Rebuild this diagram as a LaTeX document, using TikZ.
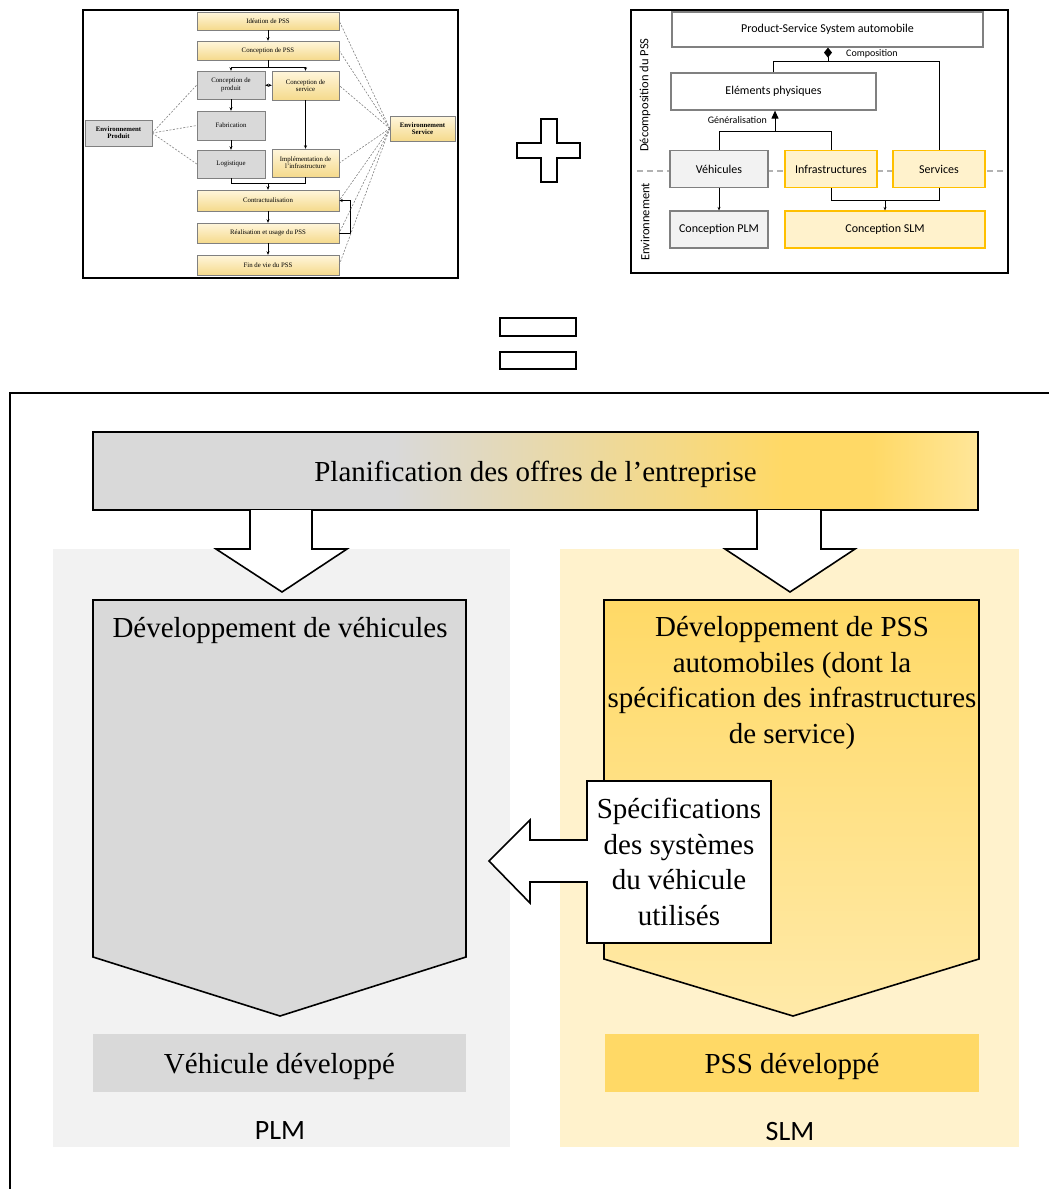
\documentclass[tikz,border=0pt]{standalone}
\usepackage{fontspec}
\setmainfont{Liberation Serif}
\newfontfamily\calibri{Carlito}
\usetikzlibrary{arrows.meta}

\definecolor{pssgrey}{HTML}{D9D9D9}
\definecolor{palegrey}{HTML}{F2F2F2}
\definecolor{pssyellow}{HTML}{FFD966}
\definecolor{paleyellow}{HTML}{FFF2CC}
\definecolor{lightyellow}{HTML}{FFE699}
\definecolor{gold}{HTML}{FFC000}
\definecolor{minitop}{HTML}{FFF6DC}
\definecolor{minibot}{HTML}{F5DA8C}
\pgfdeclarehorizontalshading{offreshade}{100bp}{color(0bp)=(pssgrey); color(42bp)=(pssgrey); color(64bp)=(pssyellow); color(69bp)=(pssyellow); color(75bp)=(lightyellow); color(100bp)=(lightyellow)}

\begin{document}
\begin{tikzpicture}[x=1pt, y=-1pt, >={Stealth[length=3.5pt,width=3pt]},
    mini/.style={draw=gray, inner sep=1pt, align=center, font=\fontsize{6.8}{7.3}\selectfont},
    gmini/.style={mini, fill=pssgrey},
    ymini/.style={mini, top color=minitop, bottom color=minibot},
    envmini/.style={font=\fontsize{6.8}{7.3}\selectfont\bfseries},
    link/.style={->, line width=0.7},
    envlink/.style={gray, line width=0.6, dash pattern=on 2pt off 1.5pt},
    cbox/.style={draw=gray, line width=1.2, minimum height=37, font=\calibri\fontsize{12}{14}\selectfont},
    clabel/.style={font=\calibri\fontsize{10}{12}\selectfont, inner sep=1pt},
    big/.style={font=\fontsize{29}{35.5}\selectfont, align=center},
    lowtext/.style={text height=27pt, text depth=6pt},
    blockarrow/.style={draw, fill=white, line width=1.6}]
  \useasboundingbox (0,0) rectangle (1049,1189);

  % first picture: PSS life cycle
  \draw[line width=2.5] (83,10) rectangle (458,278);
  \node[ymini, minimum width=142, minimum height=18] (idea) at (268,21) {Idéation de PSS};
  \node[ymini, minimum width=142, minimum height=19] (cpss) at (268,50.5) {Conception de PSS};
  \node[gmini, minimum width=68, minimum height=28] (cprod) at (231,85) {Conception de\\produit};
  \node[ymini, minimum width=67, minimum height=29] (cserv) at (305.5,85.5) {Conception de\\service};
  \node[gmini, minimum width=68, minimum height=29] (fab) at (231,125.5) {Fabrication};
  \node[gmini, minimum width=68, minimum height=28] (logi) at (231,164) {Logistique};
  \node[ymini, minimum width=67, minimum height=28] (impl) at (305.5,163) {Implémentation de\\l’infrastructure};
  \node[ymini, minimum width=142, minimum height=21] (contr) at (268,200.5) {Contractualisation};
  \node[ymini, minimum width=142, minimum height=20] (real) at (268,233) {Réalisation et usage du PSS};
  \node[ymini, minimum width=142, minimum height=20] (fin) at (268,265) {Fin de vie du PSS};
  \node[gmini, envmini, minimum width=67, minimum height=26] (envp) at (118.5,133) {Environnement\\Produit};
  \node[ymini, envmini, minimum width=65, minimum height=25] (envs) at (422.5,128.5) {Environnement\\Service};

  \draw[link] (idea) -- (cpss);
  \draw[link] (cpss.south) -- ++(0,7) -| (cprod.north);
  \draw[link] (cpss.south) -- ++(0,7) -| (cserv.north);
  \draw[link, <->] (cprod) -- (cserv);
  \draw[link] (cprod) -- (fab);
  \draw[link] (fab) -- (logi);
  \draw[link] (cserv) -- (impl);
  \coordinate (merge) at (268,183);
  \draw[link] (logi.south) |- (merge) -- (contr.north);
  \draw[line width=0.7] (impl.south) |- (merge);
  \draw[link] (contr) -- (real);
  \draw[link] (real) -- (fin);
  \draw[link] (real.east) -- ++(11,0) |- (contr.east);
  \foreach \n in {cprod,fab,logi}
    \draw[envlink] (envp.east) -- (\n.west);
  \foreach \n in {idea,cpss,cserv,impl,contr,real,fin}
    \draw[envlink] (envs.west) -- (\n.east);

  % plus
  \draw[line width=2.5] (541,119) -- (557,119) -- (557,143) -- (580,143) -- (580,158) -- (557,158)
    -- (557,182) -- (541,182) -- (541,158) -- (517,158) -- (517,143) -- (541,143) -- cycle;

  % second picture: PSS decomposition
  \draw[line width=2.5] (631,10) rectangle (1008,273);
  \draw[gray!60, line width=1.2, dash pattern=on 6pt off 4pt] (637,171) -- (1005,171);
  \node[cbox, minimum width=311, minimum height=35] (psa) at (827.5,29.5) {Product-Service System automobile};
  \node[cbox, minimum width=205] (elem) at (773.5,91.5) {Eléments physiques};
  \node[cbox, fill=palegrey, minimum width=98] (veh) at (719,169) {Véhicules};
  \node[cbox, draw=gold, fill=paleyellow, minimum width=92] (infra) at (831,169) {Infrastructures};
  \node[cbox, draw=gold, fill=paleyellow, minimum width=92] (serv) at (939,169) {Services};
  \node[cbox, fill=palegrey, minimum width=98] (cplm) at (719,229.5) {Conception PLM};
  \node[cbox, draw=gold, fill=paleyellow, minimum width=200] (cslm) at (885,229.5) {Conception SLM};
  \node[rotate=90, font=\calibri\fontsize{12.5}{14}\selectfont] (decomp) at (645,95) {Décomposition du PSS};
  \node[rotate=90, font=\calibri\fontsize{12.5}{14}\selectfont] (envir) at (645,222) {Environnement};

  \coordinate (comp) at (828,61);
  \draw[line width=1] (elem.north) |- (serv.north |- comp) -- (serv.north);
  \draw[line width=1, {Diamond[length=10pt,width=8pt]}-] (psa.south -| comp) -- (comp);
  \node[clabel, anchor=west] (complab) at (845,54) {Composition};
  \coordinate (gen) at (775,131);
  \draw[line width=1] (veh.north) |- (infra.north |- gen) -- (infra.north);
  \draw[line width=1, -{Triangle[length=8pt,width=7pt]}] (gen) -- (elem.south -| gen);
  \node[clabel, anchor=east] (genlab) at (768,120) {Généralisation};
  \draw[line width=1, ->] (veh) -- (cplm);
  \coordinate (slmjoin) at (885,200);
  \draw[line width=1] (infra.south) |- (serv.south |- slmjoin) -- (serv.south);
  \draw[line width=1, ->] (slmjoin) -- (cslm.north);

  % equals
  \draw[line width=2.5] (500,318) rectangle (576,336);
  \draw[line width=2.5] (500,352) rectangle (576,369);

  % result: PLM and SLM
  \draw[line width=2] (1049,393) -- (10,393) -- (10,1189);
  \fill[palegrey] (53,549) rectangle (510,1147);
  \fill[paleyellow] (560,549) rectangle (1019,1147);
  \node[draw, line width=1.6, shading=offreshade, minimum width=885, minimum height=78, big, lowtext] (plan)
    at (535.5,471) {Planification des offres de l’entreprise};
  \filldraw[blockarrow] (250,510) -- (250,549) -- (216,549) -- (282,592) -- (347,549) -- (312,549) -- (312,510);
  \filldraw[blockarrow] (757,510) -- (757,549) -- (725,549) -- (790,592) -- (855,549) -- (821,549) -- (821,510);

  \filldraw[line width=1.6, fill=pssgrey] (93,600) -- (466,600) -- (466,957) -- (280,1016) -- (93,957) -- cycle;
  \draw[line width=1.6, top color=pssyellow, bottom color=lightyellow!85!white]
    (604,600) -- (979,600) -- (979,959) -- (793,1016) -- (604,959) -- cycle;
  \node[big] (vdev) at (280,630) {Développement de véhicules};
  \node[big] (pdev) at (792,683) {Développement de PSS\\automobiles (dont la\\spécification des infrastructures\\de service)};

  \filldraw[blockarrow] (771,781) -- (587,781) -- (587,840) -- (530,840) -- (530,820) -- (489,861)
    -- (530,903) -- (530,882) -- (587,882) -- (587,943) -- (771,943) -- cycle;
  \node[big] (spec) at (679,862) {Spécifications\\des systèmes\\du véhicule\\utilisés};

  \node[big, lowtext, fill=pssgrey, minimum width=373, minimum height=58] (vres) at (279.5,1063) {Véhicule développé};
  \node[big, lowtext, fill=pssyellow, minimum width=374, minimum height=58] (pres) at (792,1063) {PSS développé};
  \node[font=\calibri\fontsize{28}{30}\selectfont] (plmlab) at (280,1131) {PLM};
  \node[font=\calibri\fontsize{28}{30}\selectfont] (slmlab) at (790,1131) {SLM};
\end{tikzpicture}
\end{document}
